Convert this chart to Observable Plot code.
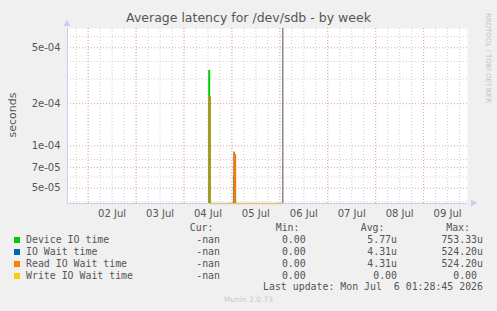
<!DOCTYPE html>
<html><head><meta charset="utf-8">
<script src="https://cdn.jsdelivr.net/npm/d3@7"></script>
<script src="https://cdn.jsdelivr.net/npm/@observablehq/plot@0.6"></script>
<style>
html,body{margin:0;padding:0;background:#f0f0f0;}
#wrap{position:relative;width:497px;height:311px;overflow:hidden;background:#f0f0f0;font-family:"DejaVu Sans",sans-serif;color:#555;}
#chart{position:absolute;left:0;top:0;}
.t{position:absolute;white-space:pre;line-height:1;}
.mono{font-family:"DejaVu Sans Mono",monospace;font-size:9.9px;color:#555;}
.sw{position:absolute;width:6px;height:6px;}
</style></head><body>
<div id="wrap"><div id="chart"></div></div>
<script>
// ---- data ----
const title = "Average latency for /dev/sdb - by week";
const yLabel = "seconds";
const seriesNames = ["Device IO time", "IO Wait time", "Read IO Wait time", "Write IO Wait time"];
const seriesColors = ["#00cc00", "#0066b3", "#ff8000", "#ffcc00"];
const curVals = ["-nan", "-nan", "-nan", "-nan"];
const minVals = ["0.00", "0.00", "0.00", "0.00"];
const avgVals = ["5.77u", "4.31u", "4.31u", "0.00"];
const maxVals = ["753.33u", "524.20u", "524.20u", "0.00"];
const lastUpdate = "Last update: Mon Jul  6 01:28:45 2026";
const lastUpdateTime = ["2026-07-06T01:28:45Z"];
const xDomain = ["2026-07-01T13:40Z", "2026-07-09T22:00Z"];
const yDomain = [3.89e-5, 6.86e-4];
const yTicks = [5e-4, 2e-4, 1e-4, 7e-5, 5e-5];
const yTickLabels = ["5e-04", "2e-04", "1e-04", "7e-05", "5e-05"];
const yMinor = [4e-5, 6e-5, 8e-5, 3e-4, 4e-4, 6e-4];
const xTickDays = ["2026-07-02", "2026-07-03", "2026-07-04", "2026-07-05", "2026-07-06", "2026-07-07", "2026-07-08", "2026-07-09"];
const xTickLabels = ["02 Jul", "03 Jul", "04 Jul", "05 Jul", "06 Jul", "07 Jul", "08 Jul", "09 Jul"];
const spikeSeries = ["Device IO time", "Device IO time", "IO Wait time", "IO Wait time", "IO Wait time", "Read IO Wait time", "Read IO Wait time", "Read IO Wait time"];
const spikeTimes = ["2026-07-04T12:38Z", "2026-07-05T01:02Z", "2026-07-04T12:58Z", "2026-07-05T01:10Z", "2026-07-05T01:40Z", "2026-07-04T12:58Z", "2026-07-05T01:10Z", "2026-07-05T01:40Z"];
const spikeValues = [3.45e-4, 6.0e-5, 2.25e-4, 9.0e-5, 8.6e-5, 2.25e-4, 9.0e-5, 8.6e-5];
const writeZeroSpan = ["2026-07-04T13:00Z", "2026-07-06T01:28Z"];

// ---- build ----
const parse = s => new Date(s);
const spikes = spikeTimes.map((t, i) => ({time: parse(t), value: spikeValues[i], series: spikeSeries[i]}));
const xd = xDomain.map(parse);
const minorX = d3.utcHour.every(6).range(xd[0], xd[1]);
const majorX = d3.utcDay.range(xd[0], xd[1]);
const noonTicks = xTickDays.map(d => new Date(d + "T12:00Z"));
const colorOf = Object.fromEntries(seriesNames.map((n, i) => [n, seriesColors[i]]));
const yLabelOf = new Map(yTicks.map((v, i) => [v, yTickLabels[i]]));
const xLabelOf = new Map(noonTicks.map((v, i) => [+v, xTickLabels[i]]));
const gridRed = "#e6a3a3", gridGray = "#cfcfcf", axisCol = "#c9d0ee";

const chart = Plot.plot({
  width: 497, height: 222,
  marginLeft: 67, marginRight: 30, marginTop: 28, marginBottom: 19,
  x: {type: "utc", domain: xd, label: null},
  y: {type: "log", domain: yDomain, label: null},
  style: {background: "transparent", fontFamily: "DejaVu Sans", fontSize: "10px", color: "#555", overflow: "visible"},
  marks: [
    Plot.frame({fill: "white", stroke: null}),
    Plot.ruleX(minorX, {stroke: gridGray, strokeDasharray: "1,2"}),
    Plot.ruleY(yMinor, {stroke: gridGray, strokeDasharray: "1,2"}),
    Plot.ruleX(majorX, {stroke: gridRed, strokeDasharray: "1,2"}),
    Plot.ruleY(yTicks, {stroke: gridRed, strokeDasharray: "1,2"}),
    Plot.ruleY([yDomain[0]], {stroke: axisCol, strokeWidth: 1}),
    Plot.ruleX([xd[0]], {stroke: axisCol, strokeWidth: 1}),
    Plot.ruleY([yDomain[0]], {x1: parse(writeZeroSpan[0]), x2: parse(writeZeroSpan[1]), stroke: "#d8c68a", strokeWidth: 1.5}),
    Plot.ruleX(lastUpdateTime.map(parse), {y1: yDomain[0], y2: yDomain[1], stroke: "#8a8a8a", strokeWidth: 1.5}),
    Plot.ruleX(spikes.filter(d => d.series === "Device IO time"), {x: "time", y1: yDomain[0], y2: "value", stroke: colorOf["Device IO time"], strokeWidth: 2}),
    Plot.ruleX(spikes.filter(d => d.series === "IO Wait time"), {x: "time", y1: yDomain[0], y2: "value", stroke: colorOf["IO Wait time"], strokeWidth: 1.5}),
    Plot.ruleX(spikes.filter(d => d.series === "Read IO Wait time"), {x: "time", y1: yDomain[0], y2: "value", stroke: colorOf["Read IO Wait time"], strokeWidth: 2, strokeOpacity: 0.85}),
    Plot.axisX({ticks: noonTicks, tickFormat: d => xLabelOf.get(+d), tickSize: 0, tickPadding: 6, label: null}),
    Plot.axisY({ticks: yTicks, tickFormat: d => yLabelOf.get(d), tickSize: 0, tickPadding: 7, label: null})
  ]
});
document.getElementById("chart").appendChild(chart);

// axis arrows (decor)
const svg = d3.select(chart);
svg.append("path").attr("d", "M63.5,26 L67,19.5 L70.5,26 Z").attr("fill", axisCol);
svg.append("path").attr("d", "M471,199.5 L477.5,203 L471,206.5 Z").attr("fill", axisCol);

// ---- texts ----
const wrap = document.getElementById("wrap");
function addText(txt, css, cls) {
  const el = document.createElement("div");
  el.className = "t " + (cls || "");
  el.textContent = txt;
  Object.assign(el.style, css);
  wrap.appendChild(el);
  return el;
}
addText(title, {left: "0", width: "497px", textAlign: "center", top: "12px", fontSize: "12.5px", color: "#555"});
addText(yLabel, {left: "12px", top: "115px", fontSize: "11px", transform: "translate(-50%,-50%) rotate(-90deg)", color: "#555"});
addText("RRDTOOL / TOBI OETIKER", {left: "487px", top: "58px", fontSize: "7px", color: "#c4c4c4", transform: "translate(-50%,-50%) rotate(90deg)", fontFamily: "DejaVu Sans"});
addText("Munin 2.0.73", {left: "0", width: "497px", textAlign: "center", top: "296px", fontSize: "7.5px", color: "#c8c8c8"});

function rightText(txt, right, cy) {
  addText(txt, {right: (497 - right) + "px", top: (cy - 5) + "px"}, "mono");
}
const headY = 228.3;
rightText("Cur:", 213.5, headY);
rightText("Min:", 299.5, headY);
rightText("Avg:", 384.5, headY);
rightText("Max:", 470, headY);
seriesNames.forEach((n, i) => {
  const cy = 239.7 + i * 12;
  const sw = document.createElement("div");
  sw.className = "sw";
  Object.assign(sw.style, {left: "14px", top: (cy - 3) + "px", background: seriesColors[i]});
  wrap.appendChild(sw);
  addText(n, {left: "26px", top: (cy - 5) + "px"}, "mono");
  rightText(curVals[i], 220, cy);
  rightText(minVals[i], 305.7, cy);
  rightText(avgVals[i], 397, cy);
  rightText(maxVals[i], i === 3 ? 477 : 483, cy);
});
rightText(lastUpdate, 483, 287.3);
</script>
</body></html>
